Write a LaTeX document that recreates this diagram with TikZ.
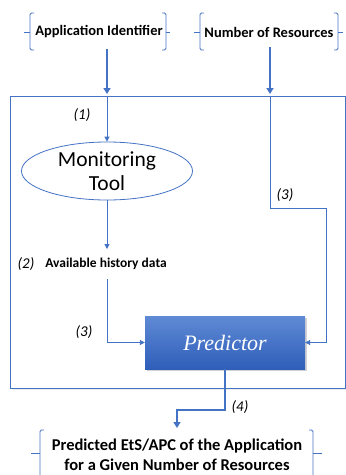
\documentclass[tikz,border=0pt]{standalone}
\usepackage{fontspec}
\setmainfont{Carlito}
\newfontfamily\predfont{Liberation Serif}
\usetikzlibrary{arrows.meta,shadows,shapes.geometric}
\definecolor{lblue}{HTML}{4472C4}
\definecolor{ptop}{HTML}{5F8AD4}
\definecolor{pbot}{HTML}{2F5EBA}
\begin{document}
\begin{tikzpicture}[x=1pt,y=-1pt,
  conn/.style={draw=lblue, line width=0.9pt, -{Triangle[width=5pt,length=5pt]}},
  bigconn/.style={draw=lblue, line width=2pt, -{Triangle[width=7pt,length=6pt]}},
  brk/.style={draw=lblue, line width=0.8pt, rounded corners=1.5pt},
  lbl/.style={font=\itshape\fontsize{15}{17}\selectfont, inner sep=0pt},
  inp/.style={font=\bfseries\fontsize{14.5}{16}\selectfont, inner sep=0pt},
  pred/.style={top color=ptop, bottom color=pbot, draw=none, minimum width=160pt, minimum height=53pt, inner sep=0pt,
    text=white, font=\predfont\itshape\fontsize{22}{24}\selectfont,
    drop shadow={shadow xshift=1.5pt, shadow yshift=-1.5pt, opacity=0.35}},
]
\useasboundingbox (0,0) rectangle (346,475);
\fill[white] (0,0) rectangle (346,475);

% frame
\node[draw=lblue, line width=0.8pt, fill=white, minimum width=335pt, minimum height=292pt, inner sep=0pt, anchor=north west,
  drop shadow={shadow xshift=1.5pt, shadow yshift=-1.5pt, opacity=0.15}] (frame) at (10,96) {};

% inputs
\node[inp] (appid) at (99,32) {Application Identifier};
\node[inp] (nres) at (269,32) {Number of Resources};
\draw[brk] (34,13) -- (30,13) -- (30,50) -- (34,50);
\draw[brk] (24,32) -- (30,32);
\draw[brk] (162,13) -- (166,13) -- (166,50) -- (162,50);
\draw[brk] (166,32) -- (170,32);
\draw[brk] (204,13) -- (200,13) -- (200,50) -- (204,50);
\draw[brk] (194,32) -- (200,32);
\draw[brk] (334,13) -- (338,13) -- (338,50) -- (334,50);
\draw[brk] (338,32) -- (343,32);

\coordinate (a1s) at (107,49);
\coordinate (a1e) at (107,94);
\coordinate (a2s) at (270,47);
\coordinate (a2e) at (270,94);
\draw[bigconn] (a1s) -- (a1e);
\draw[bigconn] (a2s) -- (a2e);

% monitoring tool
\node[ellipse, draw=lblue, line width=0.8pt, minimum width=171pt, minimum height=58pt, inner sep=0pt, align=center,
  font=\fontsize{21.5}{24}\selectfont] (mon) at (107,171) {Monitoring\\Tool};
\coordinate (f1) at (107,96);
\draw[conn] (f1) -- (mon.north);
\node[lbl] (l1) at (82,115) {(1)};

% history
\node[inp, font=\bfseries\fontsize{13.5}{15}\selectfont, inner ysep=9pt] (hist) at (106,264) {Available history data};
\node[lbl] (l2) at (26,264) {(2)};
\draw[conn] (mon.south) -- (mon.south |- hist.north);

% predictor
\node[pred] (pred) at (225,342.5) {Predictor};
\draw[conn] (mon.south |- hist.south) |- (pred.west);
\node[lbl] (l3a) at (84,332) {(3)};

\coordinate (f2) at (270,96);
\coordinate (r1) at (326,208);
\draw[conn] (f2) |- (r1) |- (pred.east);
\node[lbl] (l3b) at (285,195) {(3)};

% output
\node[inp, font=\bfseries\fontsize{16.5}{20}\selectfont, align=center] (out) at (177,455) {Predicted EtS/APC of the Application\\for a Given Number of Resources};
\coordinate (o1) at (225,410);
\coordinate (o2) at (177,428);
\draw[bigconn] (pred.south) -- (o1) -| (o2);
\node[lbl] (l4) at (240,407) {(4)};
\draw[brk] (44,430) -- (40,430) -- (40,480);
\draw[brk] (31,453) -- (40,453);
\draw[brk] (309,430) -- (313,430) -- (313,480);
\draw[brk] (313,453) -- (322,453);
\end{tikzpicture}
\end{document}
